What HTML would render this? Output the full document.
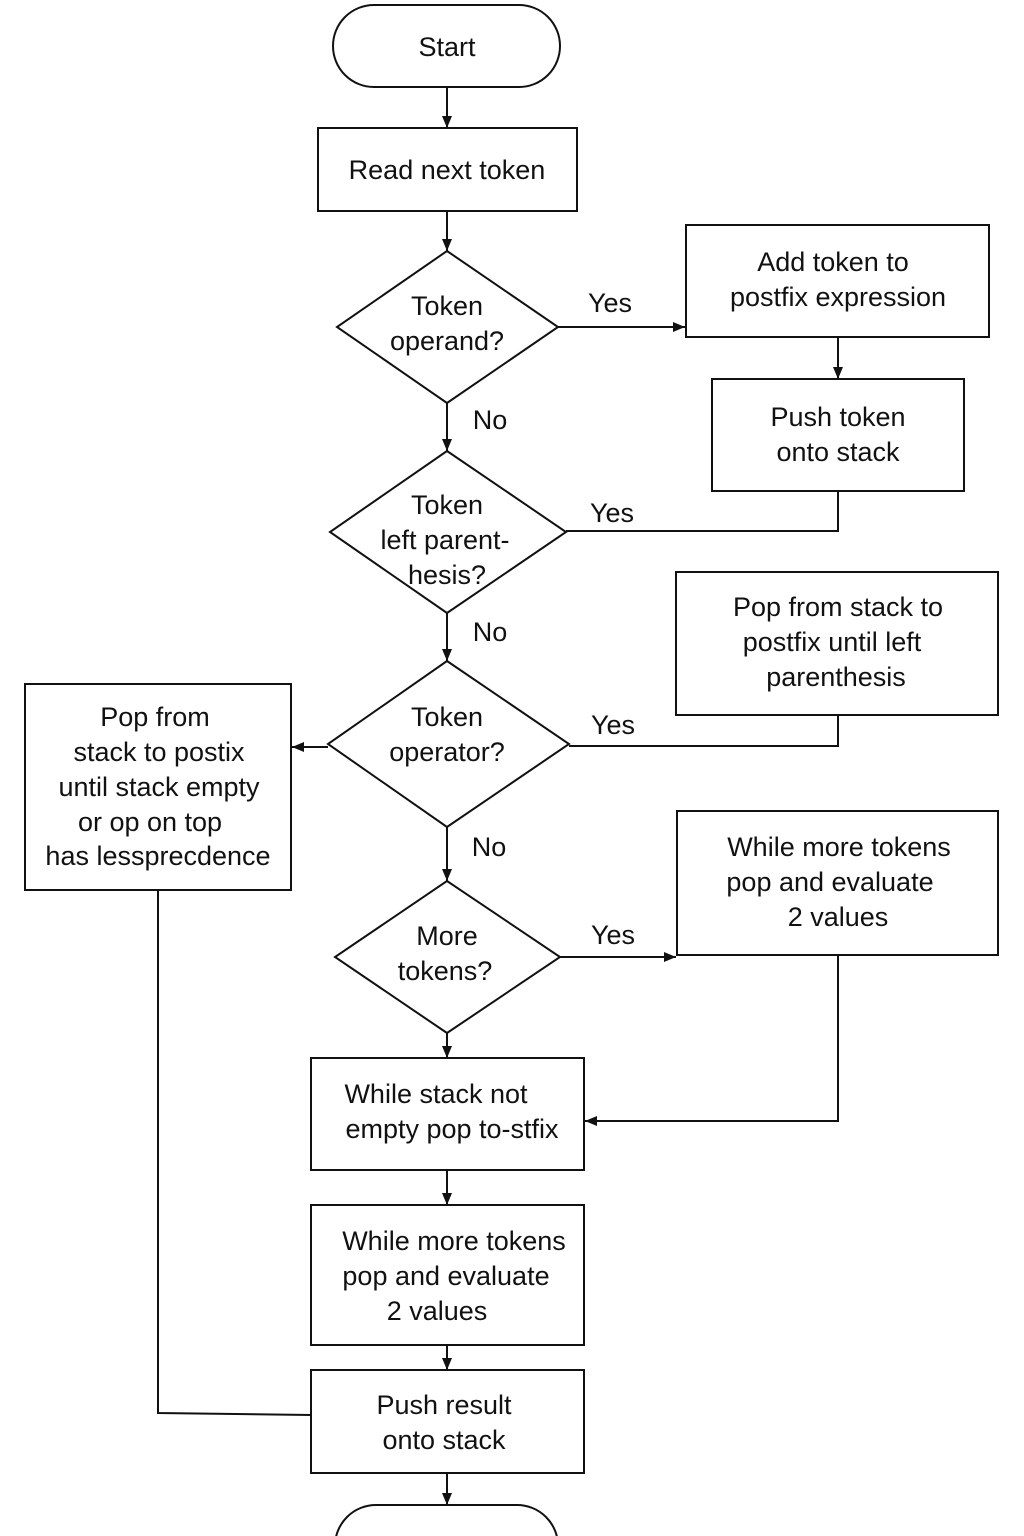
<!DOCTYPE html>
<html><head><meta charset="utf-8"><style>
html,body{margin:0;padding:0;background:#fff;}
svg{display:block;}
text{font-family:"Liberation Sans",sans-serif;font-size:27px;fill:#111;text-anchor:middle;dominant-baseline:middle;}
</style></head><body>
<svg width="1024" height="1536" viewBox="0 0 1024 1536" xmlns="http://www.w3.org/2000/svg">
<defs><marker id="a" markerWidth="12" markerHeight="10" refX="12" refY="5" orient="auto" markerUnits="userSpaceOnUse"><path d="M0,0 L12,5 L0,10 Z" fill="#111"/></marker></defs>
<g fill="none" stroke="#111" stroke-width="2">
<rect x="333" y="5" width="227" height="82" rx="41"/>
<rect x="318" y="128" width="259" height="83"/>
<polygon points="447,251 558,327 447,403 337,327"/>
<rect x="686" y="225" width="303" height="112"/>
<rect x="712" y="379" width="252" height="112"/>
<polygon points="447,451 566,532 447,613 330,532"/>
<rect x="676" y="572" width="322" height="143"/>
<polygon points="447,661 569,744 447,827 328,744"/>
<rect x="25" y="684" width="266" height="206"/>
<polygon points="447,881 560,957 447,1033 335,957"/>
<rect x="677" y="811" width="321" height="144"/>
<rect x="311" y="1058" width="273" height="112"/>
<rect x="311" y="1205" width="273" height="140"/>
<rect x="311" y="1370" width="273" height="103"/>
<rect x="335" y="1505" width="223" height="82" rx="41"/>
<line x1="447" y1="87" x2="447" y2="128" marker-end="url(#a)"/>
<line x1="447" y1="211" x2="447" y2="251" marker-end="url(#a)"/>
<line x1="558" y1="327" x2="685" y2="327" marker-end="url(#a)"/>
<line x1="838" y1="337" x2="838" y2="379" marker-end="url(#a)"/>
<polyline points="838,491 838,531 566,531"/>
<line x1="447" y1="403" x2="447" y2="451" marker-end="url(#a)"/>
<line x1="447" y1="613" x2="447" y2="661" marker-end="url(#a)"/>
<polyline points="838,715 838,746 569,746"/>
<line x1="328" y1="747" x2="292" y2="747" marker-end="url(#a)"/>
<line x1="447" y1="827" x2="447" y2="881" marker-end="url(#a)"/>
<line x1="560" y1="957" x2="676" y2="957" marker-end="url(#a)"/>
<polyline points="838,955 838,1121 585,1121" marker-end="url(#a)"/>
<line x1="447" y1="1033" x2="447" y2="1058" marker-end="url(#a)"/>
<line x1="447" y1="1170" x2="447" y2="1205" marker-end="url(#a)"/>
<line x1="447" y1="1345" x2="447" y2="1370" marker-end="url(#a)"/>
<polyline points="158,890 158,1413 311,1415"/>
<line x1="447" y1="1473" x2="447" y2="1505" marker-end="url(#a)"/>
</g>
<text x="447" y="49">Start</text>
<text x="447" y="172">Read next token</text>
<text x="447" y="308">Token</text>
<text x="447" y="343">operand?</text>
<text x="610" y="305">Yes</text>
<text x="833" y="264">Add token to</text>
<text x="838" y="299">postfix expression</text>
<text x="838" y="419">Push token</text>
<text x="838" y="454">onto stack</text>
<text x="490" y="422">No</text>
<text x="447" y="507">Token</text>
<text x="445" y="542">left parent-</text>
<text x="447" y="577">hesis?</text>
<text x="612" y="515">Yes</text>
<text x="490" y="634">No</text>
<text x="838" y="609">Pop from stack to</text>
<text x="832" y="644">postfix until left</text>
<text x="836" y="679">parenthesis</text>
<text x="447" y="719">Token</text>
<text x="447" y="754">operator?</text>
<text x="613" y="727">Yes</text>
<text x="155" y="719">Pop from</text>
<text x="159" y="754">stack to postix</text>
<text x="159" y="789">until stack empty</text>
<text x="150" y="824">or op on top</text>
<text x="158" y="858">has lessprecdence</text>
<text x="489" y="849">No</text>
<text x="447" y="938">More</text>
<text x="445" y="973">tokens?</text>
<text x="613" y="937">Yes</text>
<text x="839" y="849">While more tokens</text>
<text x="830" y="884">pop and evaluate</text>
<text x="838" y="919">2 values</text>
<text x="436" y="1096">While stack not</text>
<text x="452" y="1131">empty pop to-stfix</text>
<text x="454" y="1243">While more tokens</text>
<text x="446" y="1278">pop and evaluate</text>
<text x="437" y="1313">2 values</text>
<text x="444" y="1407">Push result</text>
<text x="444" y="1442">onto stack</text>
</svg>
</body></html>
